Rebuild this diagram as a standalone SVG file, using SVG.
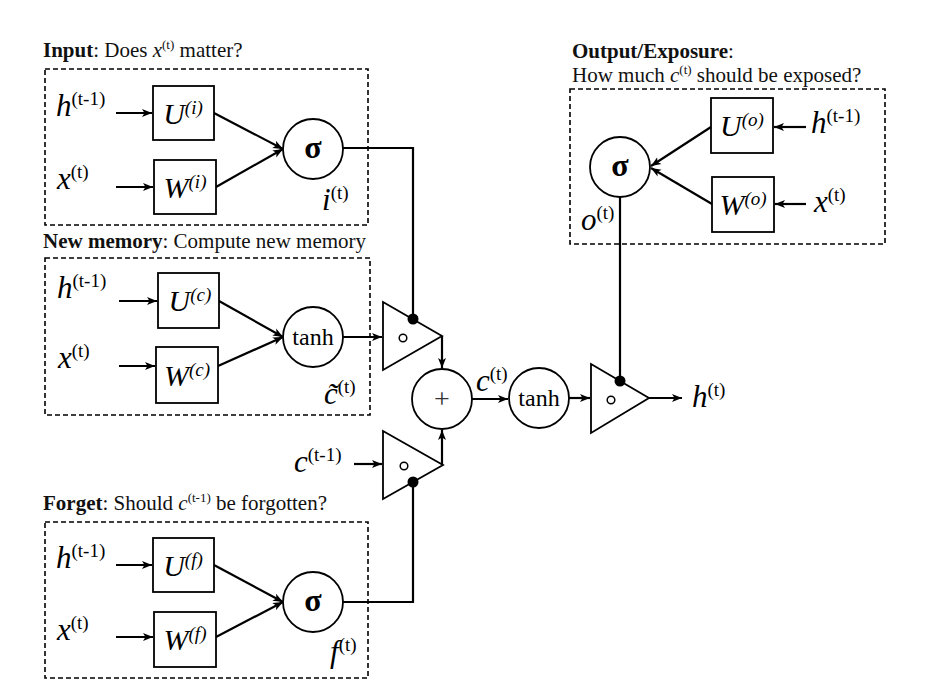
<svg xmlns="http://www.w3.org/2000/svg" width="928" height="691" viewBox="0 0 928 691">
<defs>
<marker id="ah" markerWidth="11" markerHeight="9" refX="10" refY="4.5" orient="auto" markerUnits="userSpaceOnUse">
<path d="M0,0.5 L10,4.5 L0,8.5 L2.5,4.5 z" fill="#000"/>
</marker>
<style>
.dash{fill:none;stroke:#000;stroke-width:1.6;stroke-dasharray:5,3}
.box{fill:#fff;stroke:#000;stroke-width:1.8}
.circ{fill:#fff;stroke:#000;stroke-width:1.8}
.tri{fill:#fff;stroke:#000;stroke-width:1.8;stroke-linejoin:miter}
.small{fill:#fff;stroke:#000;stroke-width:1.5}
.dot{fill:#000}
.ln{fill:none;stroke:#000;stroke-width:2.2}
.arr{fill:none;stroke:#000;stroke-width:2.2;marker-end:url(#ah)}
.t{font-family:"Liberation Serif",serif;font-size:21px;fill:#111}
.v{font-family:"Liberation Serif",serif;font-size:31px;font-style:italic;fill:#000}
.sup{font-size:19px;font-style:normal}
.m{font-family:"Liberation Serif",serif;font-size:30px;font-style:italic;fill:#000;text-anchor:middle}
.ms{font-size:19px}
.sig{font-family:"Liberation Serif",serif;font-size:32px;font-weight:bold;text-anchor:middle}
.tanh{font-family:"Liberation Serif",serif;font-size:24px;text-anchor:middle}
.b{font-weight:bold}
.i{font-style:italic}
</style>
</defs>

<g id="connectors">
<path class="arr" d="M116,113 H152"/>
<path class="arr" d="M116,187 H153"/>
<path class="arr" d="M214,113 L283,149"/>
<path class="arr" d="M216,187 L283,149"/>
<path class="ln" d="M343,148 H413 V319"/>

<path class="arr" d="M119,301 H157"/>
<path class="arr" d="M119,366 H155"/>
<path class="arr" d="M219,301 L283,337"/>
<path class="arr" d="M218,366 L283,337"/>
<path class="arr" d="M343,337 H382"/>

<path class="arr" d="M116,565 H152"/>
<path class="arr" d="M116,637 H153"/>
<path class="arr" d="M214,565 L283,602"/>
<path class="arr" d="M216,637 L283,602"/>
<path class="ln" d="M343,602 H413 V482"/>

<path class="arr" d="M806,127 H774"/>
<path class="arr" d="M806,204 H775"/>
<path class="arr" d="M711,127 L651,166"/>
<path class="arr" d="M712,204 L651,168"/>
<path class="ln" d="M620,197 V381"/>

<path class="arr" d="M442,336 V368"/>
<path class="arr" d="M442,465 V430"/>
<path class="arr" d="M354,464 H382"/>
<path class="arr" d="M472,399 H508"/>
<path class="arr" d="M569,398 H590"/>
<path class="arr" d="M649,398 H682"/>
</g>

<g id="input-gate">
<rect class="dash" x="45" y="69" width="323" height="156"/>
<text class="t" x="43" y="57"><tspan class="b">Input</tspan>: Does <tspan class="i">x</tspan><tspan font-size="13" dy="-8">(t)</tspan><tspan dy="8"> matter?</tspan></text>
<text class="v" x="56" y="116">h<tspan class="sup" dy="-11">(t-1)</tspan></text>
<text class="v" x="57" y="189">x<tspan class="sup" dy="-11">(t)</tspan></text>
<rect class="box" x="153" y="86" width="61" height="54"/>
<text class="m" x="183" y="124">U<tspan class="ms" dy="-10">(i)</tspan></text>
<rect class="box" x="154" y="160" width="62" height="54"/>
<text class="m" x="185" y="198">W<tspan class="ms" dy="-10">(i)</tspan></text>
<circle class="circ" cx="313" cy="149" r="30"/>
<text class="sig" x="313" y="158">σ</text>
<text class="v" x="322" y="210">i<tspan class="sup" dy="-11">(t)</tspan></text>
</g>

<g id="new-memory">
<rect class="dash" x="45" y="258" width="325" height="157"/>
<text class="t" x="43" y="248"><tspan class="b">New memory</tspan>: Compute new memory</text>
<text class="v" x="57" y="298">h<tspan class="sup" dy="-11">(t-1)</tspan></text>
<text class="v" x="58" y="368">x<tspan class="sup" dy="-11">(t)</tspan></text>
<rect class="box" x="158" y="273" width="61" height="55"/>
<text class="m" x="190" y="311">U<tspan class="ms" dy="-10">(c)</tspan></text>
<rect class="box" x="156" y="347" width="62" height="56"/>
<text class="m" x="187" y="386">W<tspan class="ms" dy="-10">(c)</tspan></text>
<circle class="circ" cx="313" cy="337" r="30"/>
<text class="tanh" x="313" y="345">tanh</text>
<text class="v" x="324" y="404">c̃<tspan class="sup" dy="-11">(t)</tspan></text>
</g>

<g id="forget-gate">
<rect class="dash" x="45" y="522" width="323" height="156"/>
<text class="t" x="43" y="510"><tspan class="b">Forget</tspan>: Should <tspan class="i">c</tspan><tspan font-size="13" dy="-8">(t-1)</tspan><tspan dy="8"> be forgotten?</tspan></text>
<text class="v" x="56" y="568">h<tspan class="sup" dy="-11">(t-1)</tspan></text>
<text class="v" x="57" y="640">x<tspan class="sup" dy="-11">(t)</tspan></text>
<rect class="box" x="153" y="538" width="61" height="54"/>
<text class="m" x="183" y="576">U<tspan class="ms" dy="-10">(<tspan class="i">f</tspan>)</tspan></text>
<rect class="box" x="154" y="612" width="62" height="55"/>
<text class="m" x="185" y="650">W<tspan class="ms" dy="-10">(<tspan class="i">f</tspan>)</tspan></text>
<circle class="circ" cx="313" cy="602" r="30"/>
<text class="sig" x="313" y="611">σ</text>
<text class="v" x="330" y="662">f<tspan class="sup" dy="-11">(t)</tspan></text>
</g>

<g id="output-gate">
<rect class="dash" x="570" y="89" width="315" height="155"/>
<text class="t" x="572" y="58"><tspan class="b">Output/Exposure</tspan>:</text>
<text class="t" x="572" y="82">How much <tspan class="i">c</tspan><tspan font-size="13" dy="-8">(t)</tspan><tspan dy="8"> should be exposed?</tspan></text>
<rect class="box" x="711" y="98" width="62" height="55"/>
<text class="m" x="742" y="136">U<tspan class="ms" dy="-10">(<tspan class="i">o</tspan>)</tspan></text>
<rect class="box" x="712" y="177" width="62" height="55"/>
<text class="m" x="743" y="215">W<tspan class="ms" dy="-10">(<tspan class="i">o</tspan>)</tspan></text>
<text class="v" x="811" y="133">h<tspan class="sup" dy="-11">(t-1)</tspan></text>
<text class="v" x="814" y="212">x<tspan class="sup" dy="-11">(t)</tspan></text>
<circle class="circ" cx="620" cy="167" r="30"/>
<text class="sig" x="620" y="176">σ</text>
<text class="v" x="581" y="230">o<tspan class="sup" dy="-11">(t)</tspan></text>
</g>

<g id="mult-input">
<path class="tri" d="M383,302 L442,336 L383,370 z"/>
<circle class="small" cx="403" cy="338" r="3.8"/>
<circle class="dot" cx="413" cy="319" r="5.5"/>
</g>

<g id="mult-forget">
<path class="tri" d="M383,431 L443,465 L383,499 z"/>
<circle class="small" cx="404" cy="466" r="3.8"/>
<circle class="dot" cx="413" cy="482" r="5.5"/>
<text class="v" x="294" y="472">c<tspan class="sup" dy="-11">(t-1)</tspan></text>
</g>

<g id="sum">
<circle class="circ" cx="442" cy="399" r="30"/>
<text x="442" y="408" font-family="Liberation Serif,serif" font-size="28" fill="#333" text-anchor="middle">+</text>
<text class="v" x="476" y="391">c<tspan class="sup" dy="-11">(t)</tspan></text>
</g>

<g id="tanh-out">
<circle class="circ" cx="539" cy="398" r="30"/>
<text class="tanh" x="539" y="406">tanh</text>
</g>

<g id="mult-output">
<path class="tri" d="M591,364 L649,398 L591,433 z"/>
<circle class="small" cx="611" cy="400" r="3.8"/>
<circle class="dot" cx="620" cy="381" r="5.5"/>
<text class="v" x="692" y="407">h<tspan class="sup" dy="-11">(t)</tspan></text>
</g>
</svg>
